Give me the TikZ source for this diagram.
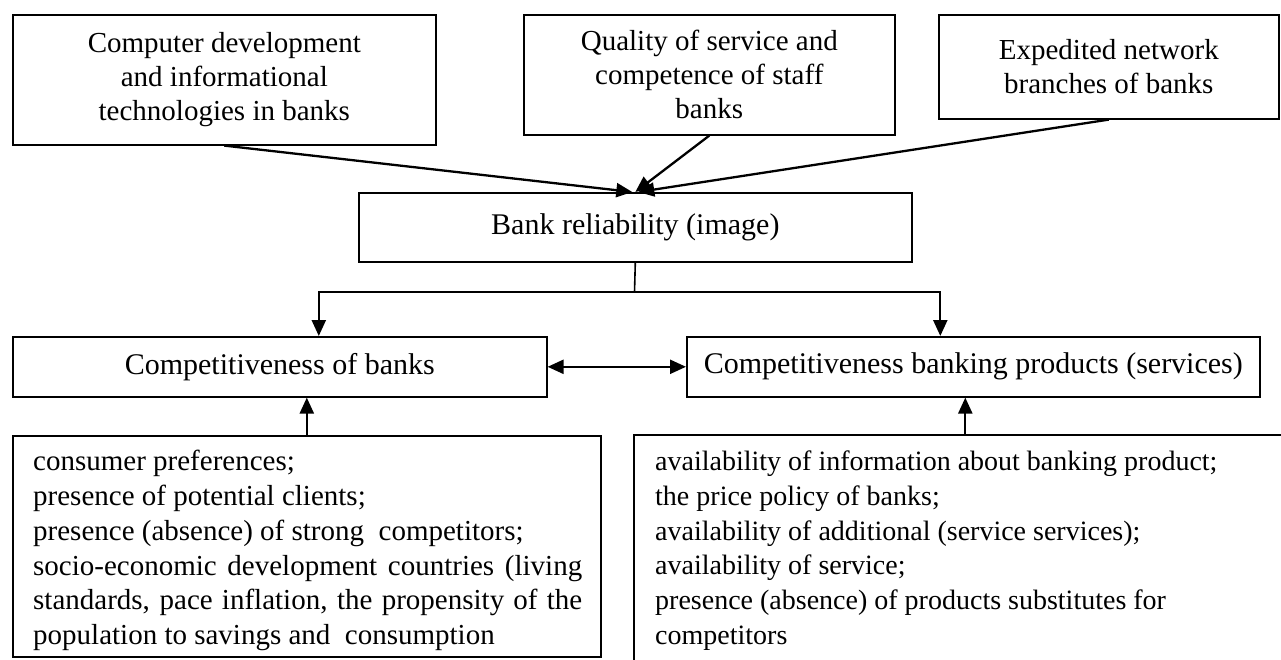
\documentclass[tikz,border=0pt]{standalone}
\usepackage{fontspec}
\setmainfont{Liberation Serif}
\usetikzlibrary{arrows.meta}
\begin{document}
\begin{tikzpicture}[x=1pt,y=-1pt,
  box/.style={draw, line width=1.6pt, inner sep=0pt, align=center, anchor=north west,
    font=\fontsize{30}{34.5}\selectfont},
  topbox/.style={box, font=\fontsize{29}{34}\selectfont},
  frame/.style={draw, line width=1.6pt, inner sep=0pt, anchor=north west},
  listtext/.style={inner sep=0pt, anchor=north west, align=left},
  conn/.style={line width=2.3pt, -{Triangle[length=16pt,width=14pt]}},
  stub/.style={line width=1.6pt},
  ]
\useasboundingbox (0,0) rectangle (1281,660);

% top row of factors
\node[topbox, minimum width=423pt, minimum height=130pt] (tech) at (12,14)
  {Computer development\\and informational\\technologies in banks};
\node[topbox, minimum width=371pt, minimum height=120pt] (staff) at (523,14)
  {Quality of service and\\competence of staff\\banks};
\node[topbox, minimum width=340pt, minimum height=104pt] (branch) at (938,14)
  {Expedited network\\branches of banks};

% central box
\node[box, minimum width=553pt, minimum height=69pt] (bank) at (358,192)
  {Bank reliability (image)};

% competitiveness row
\node[box, minimum width=534pt, minimum height=60pt] (cbank) at (12,336)
  {Competitiveness of banks};
\node[box, minimum width=573pt, minimum height=60pt] (cprod) at (686,336)
  {Competitiveness banking products (services)};

% lists of conditions (the wrapped paragraph lines are justified)
\node[frame, minimum width=588pt, minimum height=221pt] (cbankf) at (12,435) {};
\node[listtext, font=\fontsize{29}{34.8}\selectfont] (cbanklist)
  at ([shift={(21pt,-15pt)}]cbankf.north west)
  {consumer preferences;\\
   presence of potential clients;\\
   presence (absence) of strong\ \ competitors;\\
   \makebox[549pt][s]{socio-economic development countries (living}\\
   \makebox[549pt][s]{standards, pace inflation, the propensity of the}\\
   population to savings and\ \ consumption};

\node[frame, draw=none, minimum width=647pt, minimum height=225pt] (cprodf) at (634,435) {};
\draw[stub] (cprodf.south west) -- (cprodf.north west) -- (cprodf.north east);
\node[listtext, font=\fontsize{28}{34.8}\selectfont] (cprodlist)
  at ([shift={(21pt,-15.5pt)}]cprodf.north west)
  {availability of information about banking product;\\
   the price policy of banks;\\
   availability of additional (service services);\\
   availability of service;\\
   presence (absence) of products substitutes for\\
   competitors};

% factors feeding the central box
\draw[conn] (tech.south) -- ([xshift=-3pt]bank.north);
\draw[conn] (staff.south) -- ([xshift=0pt]bank.north);
\draw[conn] (branch.south) -- ([xshift=3pt]bank.north);

% branching to the two competitiveness boxes
\coordinate (split) at (634.5,292);
\coordinate (lin) at ([xshift=39pt]cbank.north);
\coordinate (rin) at ([xshift=-33pt]cprod.north);
\draw[stub] (bank.south) -- (split);
\draw[conn] (split) -| (lin);
\draw[conn] (split) -| (rin);

% mutual link
\draw[line width=2.3pt, {Triangle[length=16pt,width=14pt]}-{Triangle[length=16pt,width=14pt]}]
  (cbank.east) -- (cprod.west);

% conditions feeding upwards
\coordinate (lup) at (cbankf.north);
\coordinate (rup) at ([xshift=7pt]cprodf.north);
\draw[conn] (lup) -- (lup |- cbank.south);
\draw[conn] (rup) -- (rup |- cprod.south);
\end{tikzpicture}
\end{document}
